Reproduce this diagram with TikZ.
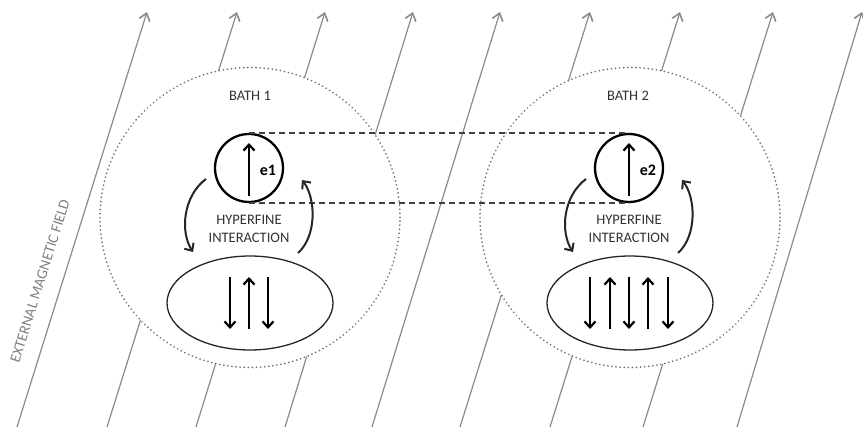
\documentclass[tikz,border=0pt]{standalone}
\usepackage{fontspec}
\setmainfont{Carlito}
\usetikzlibrary{arrows.meta,shapes.geometric}
\definecolor{fieldgray}{HTML}{8A8A8A}
\definecolor{dotgray}{HTML}{6E6E6E}
\definecolor{txtgray}{HTML}{333333}
\definecolor{linkgray}{HTML}{404040}
\tikzset{
  field/.style={draw=fieldgray, line width=1.2pt, -{Straight Barb[length=7pt,width=11pt,line width=1.6pt]}},
  bath/.style={circle, draw=dotgray, fill=white, line width=1.8pt, dash pattern=on 0.1pt off 4pt, line cap=round, minimum size=300pt, inner sep=0pt},
  lbl/.style={text=txtgray, font=\fontsize{14.5}{18}\selectfont},
  electron/.style={circle, draw=black, line width=2.3pt, fill=white, minimum size=68pt, inner sep=0pt},
  pool/.style={ellipse, draw=black!85, line width=1.3pt, fill=white, minimum width=166pt, minimum height=94pt, inner sep=0pt},
  spin/.style={draw=black, line width=2.2pt, -{Straight Barb[length=6pt,width=11pt,line width=2.2pt]}},
  link/.style={draw=linkgray, line width=1.5pt, dash pattern=on 6pt off 4pt},
  hyper/.style={draw=black!85, line width=2pt, -{Straight Barb[length=6pt,width=11pt,line width=2pt]}}
}
\begin{document}
\begin{tikzpicture}[x=1pt,y=-1pt]
\useasboundingbox (0,0) rectangle (863,427);
% field lines
\foreach \b/\t in {17/147,107/237,196/325,285/413,372/500,460/590,550/680,643/773,737/862}
  \draw[field] (\b,427) -- (\t,12);
\node[rotate=72.6, text=gray, font=\fontsize{15}{16}\selectfont, inner sep=0pt] (fieldlbl) at (40,281) {EXTERNAL MAGNETIC FIELD};
% baths
\node[bath] (bath1) at (250,217.5) {};
\node[bath] (bath2) at (630,217.5) {};
\node[lbl] (b1) at (250,96) {BATH 1};
\node[lbl] (b2) at (628,96) {BATH 2};
% electrons
\node[electron] (e1) at (249,168) {};
\node[electron] (e2) at (629,168) {};
\draw[link] (e1.north) -- (e2.north);
\draw[link] (e1.south) -- (e2.south);
\coordinate (e1b) at (249,196); \coordinate (e1t) at (249,143);
\coordinate (e2b) at (629,196); \coordinate (e2t) at (629,143);
\draw[spin] (e1b) -- (e1t);
\draw[spin] (e2b) -- (e2t);
\node[font=\bfseries\fontsize{16}{16}\selectfont] (l1) at (268,170) {e1};
\node[font=\bfseries\fontsize{16}{16}\selectfont] (l2) at (648,170) {e2};
% hyperfine
\node[lbl, align=center] (h1) at (249,229) {HYPERFINE\\INTERACTION};
\node[lbl, align=center] (h2) at (629,229) {HYPERFINE\\INTERACTION};
\coordinate (a1s) at (206,179); \coordinate (a1e) at (193,252);
\coordinate (b1s) at (298,253); \coordinate (b1e) at (302,180);
\coordinate (a2s) at (586,179); \coordinate (a2e) at (573,252);
\coordinate (b2s) at (678,253); \coordinate (b2e) at (682,180);
\draw[hyper] (a1s) .. controls (183,196) and (180,232) .. (a1e);
\draw[hyper] (b1s) .. controls (317,236) and (316,198) .. (b1e);
\draw[hyper] (a2s) .. controls (563,196) and (560,232) .. (a2e);
\draw[hyper] (b2s) .. controls (697,236) and (696,198) .. (b2e);
% nuclear pools
\node[pool] (p1) at (250,303) {};
\node[pool] (p2) at (630,303) {};
\foreach \x/\d in {230/1,249/-1,268/1}{
  \draw[spin] (\x,303-26*\d) -- (\x,303+26*\d);
}
\foreach \x/\d in {590/1,610/-1,629/1,648/-1,668/1}{
  \draw[spin] (\x,303-26*\d) -- (\x,303+26*\d);
}
\end{tikzpicture}
\end{document}
